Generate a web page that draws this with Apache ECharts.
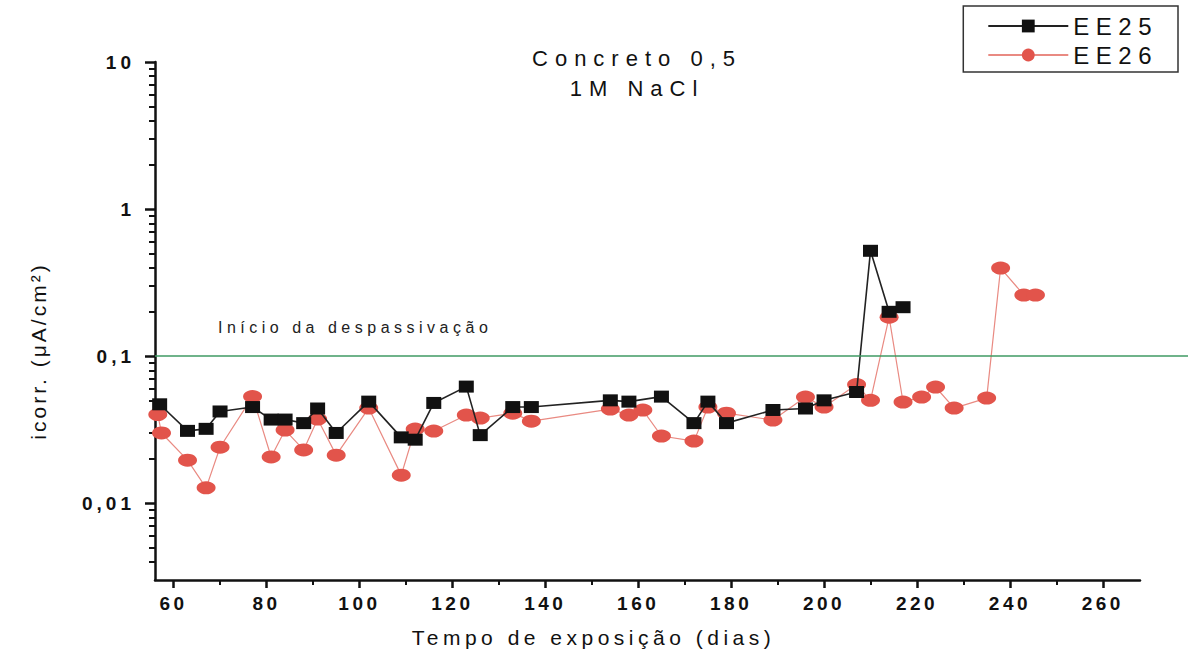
<!DOCTYPE html>
<html>
<head>
<meta charset="utf-8">
<script src="https://cdn.jsdelivr.net/npm/echarts@6/dist/echarts.min.js"></script>
<style>
  html, body { margin: 0; padding: 0; background: #fff; }
  #chart { width: 1188px; height: 661px; }
</style>
</head>
<body>
<div id="chart"></div>
<script>
// icorr vs tempo de exposicao, concreto 0,5 em 1M NaCl
var daysEE25 = [57, 63, 67, 70, 77, 81, 84, 88, 91, 95, 102, 109, 112, 116, 123, 126, 133, 137, 154, 158,
  165, 172, 175, 179, 189, 196, 200, 207, 210, 214, 217];
var icorrEE25 = [0.047, 0.031, 0.032, 0.042, 0.045, 0.037, 0.037, 0.035, 0.044, 0.030, 0.049, 0.028, 0.027, 0.048, 0.062, 0.029, 0.045, 0.045, 0.050, 0.049,
  0.053, 0.035, 0.049, 0.035, 0.043, 0.044, 0.050, 0.057, 0.52, 0.20, 0.215];

var daysEE26 = [56.6, 57.4, 63, 67, 70, 77, 81, 84, 88, 91, 95, 102, 109, 112, 116, 123, 126, 133, 137, 154,
  158, 161, 165, 172, 175, 179, 189, 196, 200, 207, 210, 214, 217, 221, 224, 228, 235, 238, 243, 245.5];
var icorrEE26 = [0.040, 0.030, 0.0196, 0.0127, 0.024, 0.053, 0.0206, 0.0314, 0.023, 0.0373, 0.0212, 0.0443, 0.0155, 0.0319, 0.0309, 0.0397, 0.0379, 0.0409, 0.0361, 0.0436,
  0.0397, 0.0429, 0.0286, 0.0264, 0.045, 0.0409, 0.0367, 0.0526, 0.045, 0.064, 0.050, 0.184, 0.0487, 0.0526, 0.0616, 0.0443, 0.0518, 0.397, 0.26, 0.26];

var xTicks = [60, 80, 100, 120, 140, 160, 180, 200, 220, 240, 260];
var xMinorTicks = [70, 90, 110, 130, 150, 170, 190, 210, 230, 250];
var yTicks = [0.01, 0.1, 1, 10];
var yMinorTicks = [0.004, 0.005, 0.006, 0.007, 0.008, 0.009,
  0.02, 0.03, 0.04, 0.05, 0.06, 0.07, 0.08, 0.09,
  0.2, 0.3, 0.4, 0.5, 0.6, 0.7, 0.8, 0.9,
  2, 3, 4, 5, 6, 7, 8, 9];
var threshold = 0.1;
var thresholdLabel = 'Início da despassivação';

var X_MIN = 56, X_MAX = 268, Y_MIN = 0.003, Y_MAX = 10;
var FONT = 'Arial, "Liberation Sans", sans-serif';

function pairs(xs, ys) {
  var out = [];
  for (var i = 0; i < xs.length; i++) out.push([xs[i], ys[i]]);
  return out;
}

var chart = echarts.init(document.getElementById('chart'), null, { renderer: 'svg' });

var option = {
  backgroundColor: '#fff',
  animation: false,
  title: {
    text: 'Concreto 0,5\n1M NaCl',
    left: 632,
    top: 38,
    textAlign: 'center',
    textStyle: { fontFamily: FONT, fontSize: 22, fontWeight: 'normal', color: '#111', lineHeight: 30 }
  },
  legend: {
    data: ['EE25', 'EE26'],
    orient: 'vertical',
    right: 10,
    top: 6,
    itemWidth: 80,
    itemHeight: 16,
    itemGap: 5,
    padding: [8, 46, 5, 24],
    borderColor: '#333',
    borderWidth: 1.5,
    textStyle: { fontFamily: FONT, fontSize: 24, color: '#111' }
  },
  grid: [
    { outerBoundsMode: 'none', left: 155, top: 62, width: 985, height: 518 },
    { outerBoundsMode: 'none', left: 155, top: 62, right: 0, height: 518 }
  ],
  xAxis: [
    {
      type: 'value', gridIndex: 0, min: X_MIN, max: X_MAX,
      name: 'Tempo de exposição (dias)',
      nameLocation: 'middle',
      nameGap: 47,
      nameTextStyle: { fontFamily: FONT, fontSize: 21, color: '#111', padding: [0, 108, 0, 0] },
      axisLine: { lineStyle: { color: '#111', width: 2.5 } },
      axisTick: { customValues: xTicks, length: 8, lineStyle: { color: '#111', width: 2.5 } },
      axisLabel: { customValues: xTicks, margin: 14, fontFamily: FONT, fontSize: 19, fontWeight: 'bold', color: '#111' },
      splitLine: { show: false }
    },
    {
      type: 'value', gridIndex: 0, min: X_MIN, max: X_MAX, position: 'bottom',
      axisLine: { show: false },
      axisTick: { customValues: xMinorTicks, length: 5, lineStyle: { color: '#111', width: 2 } },
      axisLabel: { show: false },
      splitLine: { show: false }
    },
    { type: 'value', gridIndex: 1, min: 0, max: 1, show: false }
  ],
  yAxis: [
    {
      type: 'log', logBase: 10, gridIndex: 0, min: Y_MIN, max: Y_MAX,
      name: 'icorr. (μA/cm²)',
      nameLocation: 'middle',
      nameGap: 106,
      nameRotate: 90,
      nameTextStyle: { fontFamily: FONT, fontSize: 21, color: '#111', padding: [0, 60, 0, 0] },
      axisLine: { lineStyle: { color: '#111', width: 2.5 } },
      axisTick: { customValues: yTicks, length: 10, lineStyle: { color: '#111', width: 2.5 } },
      axisLabel: {
        customValues: yTicks, margin: 20, fontFamily: FONT, fontSize: 19, fontWeight: 'bold', color: '#111',
        formatter: function (v) { return String(v).replace('.', ','); }
      },
      splitLine: { show: false }
    },
    {
      type: 'log', logBase: 10, gridIndex: 0, min: Y_MIN, max: Y_MAX, position: 'left',
      axisLine: { show: false },
      axisTick: { customValues: yMinorTicks, length: 6, lineStyle: { color: '#111', width: 2 } },
      axisLabel: { show: false },
      splitLine: { show: false }
    },
    { type: 'log', logBase: 10, gridIndex: 1, min: Y_MIN, max: Y_MAX, show: false }
  ],
  series: [
    {
      name: 'threshold',
      type: 'line',
      xAxisIndex: 2,
      yAxisIndex: 2,
      data: [],
      silent: true,
      markLine: {
        symbol: 'none',
        silent: true,
        lineStyle: { color: '#3f9a63', width: 1.6, type: 'solid' },
        label: {
          formatter: thresholdLabel,
          position: 'insideStartTop',
          distance: [63, 21],
          fontFamily: FONT, fontSize: 16, color: '#222'
        },
        data: [{ yAxis: threshold }]
      }
    },
    {
      name: 'EE26',
      type: 'line',
      xAxisIndex: 0,
      yAxisIndex: 0,
      z: 2,
      data: pairs(daysEE26, icorrEE26),
      symbol: 'circle',
      symbolSize: [19, 13],
      itemStyle: { color: '#e2544b' },
      lineStyle: { color: '#e98a82', width: 1.2 }
    },
    {
      name: 'EE25',
      type: 'line',
      xAxisIndex: 0,
      yAxisIndex: 0,
      z: 3,
      data: pairs(daysEE25, icorrEE25),
      symbol: 'rect',
      symbolSize: [15, 12],
      itemStyle: { color: '#111' },
      lineStyle: { color: '#222', width: 1.6 }
    }
  ]
};

chart.setOption(option);

// the original uses wide tracking on most texts; svg text takes css letter-spacing
function spaceLetters() {
  var texts = document.querySelectorAll('#chart text');
  texts.forEach(function (t) {
    var s = t.textContent || '';
    var sp = 4;
    if (s.indexOf('icorr') === 0) sp = 3;
    else if (s.indexOf('Início') === 0) sp = 4.5;
    else if (s.indexOf('Tempo') === 0) sp = 4.5;
    else if (s.indexOf('EE') === 0) sp = 6.5;
    else if (/[A-Za-z]/.test(s)) sp = 7;
    else if (/^\d+$/.test(s) && Number(s) >= 60) sp = 3.5;
    t.style.letterSpacing = sp + 'px';
  });
}
chart.on('finished', spaceLetters);
spaceLetters();
</script>
</body>
</html>
